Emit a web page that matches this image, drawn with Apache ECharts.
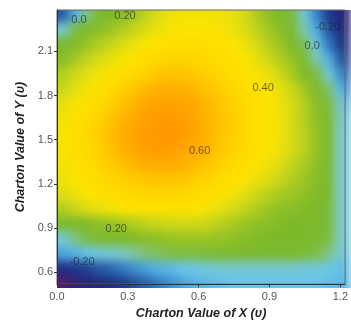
<!DOCTYPE html>
<html><head><meta charset="utf-8">
<script src="https://cdn.jsdelivr.net/npm/echarts@6/dist/echarts.min.js"></script>
<style>
html,body{margin:0;padding:0;background:#fff}
#wrap{position:relative;width:351px;height:325px}
#clip{position:absolute;left:57px;top:10px;width:294px;height:278px;overflow:hidden}
#heat{position:absolute;left:-57px;top:-10px;width:351px;height:325px;filter:blur(5px)}
#c{position:absolute;left:0;top:0;width:351px;height:325px}
</style>
</head><body><div id="wrap"><div id="clip"><div id="heat"></div></div><div id="c"></div></div>
<script>
// grid cell centres (x in Charton units, y top row first)
const xCenters = [0.025,0.075,0.125,0.175,0.225,0.275,0.325,0.375,0.425,0.475,0.525,0.575,0.625,0.675,0.725,0.775,0.825,0.875,0.925,0.975,1.025,1.075,1.125,1.175,1.225];
const yCenters = [2.35,2.25,2.15,2.05,1.95,1.85,1.75,1.65,1.55,1.45,1.35,1.25,1.15,1.05,0.95,0.85,0.75,0.65,0.55];
// surface values, one row per y centre (top first)
const zRows = [
 [-0.14,-0.03,0.08,0.16,0.20,0.22,0.26,0.30,0.34,0.37,0.38,0.38,0.38,0.37,0.36,0.33,0.28,0.23,0.19,0.13,0.02,-0.08,-0.18,-0.24,-0.26],
 [0.03,0.13,0.19,0.22,0.25,0.28,0.31,0.34,0.37,0.39,0.40,0.40,0.40,0.39,0.37,0.34,0.30,0.26,0.22,0.15,0.06,-0.04,-0.14,-0.22,-0.26],
 [0.17,0.21,0.25,0.28,0.31,0.34,0.37,0.40,0.42,0.43,0.44,0.44,0.43,0.42,0.40,0.37,0.33,0.29,0.25,0.20,0.10,0.01,-0.09,-0.18,-0.24],
 [0.22,0.26,0.30,0.33,0.36,0.39,0.42,0.45,0.47,0.48,0.48,0.48,0.47,0.45,0.43,0.40,0.36,0.32,0.28,0.24,0.16,0.06,-0.03,-0.13,-0.21],
 [0.28,0.32,0.35,0.38,0.41,0.44,0.47,0.50,0.53,0.54,0.54,0.52,0.50,0.48,0.45,0.42,0.39,0.36,0.32,0.27,0.20,0.13,0.03,-0.07,-0.16],
 [0.31,0.35,0.38,0.42,0.46,0.50,0.54,0.57,0.59,0.60,0.59,0.57,0.54,0.51,0.48,0.45,0.42,0.40,0.36,0.31,0.26,0.18,0.09,-0.02,-0.11],
 [0.35,0.39,0.42,0.46,0.50,0.55,0.59,0.62,0.64,0.64,0.63,0.61,0.57,0.54,0.50,0.47,0.44,0.41,0.37,0.33,0.28,0.22,0.14,0.04,-0.05],
 [0.38,0.42,0.45,0.49,0.54,0.58,0.62,0.65,0.67,0.67,0.65,0.62,0.58,0.54,0.51,0.47,0.44,0.41,0.38,0.33,0.28,0.23,0.16,0.05,-0.01],
 [0.39,0.43,0.47,0.51,0.56,0.60,0.64,0.67,0.68,0.68,0.66,0.62,0.58,0.54,0.51,0.47,0.44,0.41,0.38,0.33,0.29,0.24,0.17,0.05,0.00],
 [0.39,0.43,0.46,0.50,0.55,0.59,0.62,0.65,0.66,0.65,0.63,0.60,0.57,0.53,0.50,0.46,0.43,0.40,0.37,0.33,0.29,0.24,0.17,0.05,0.00],
 [0.38,0.42,0.45,0.48,0.52,0.55,0.58,0.60,0.61,0.60,0.59,0.56,0.53,0.50,0.47,0.44,0.41,0.37,0.34,0.30,0.27,0.23,0.16,0.05,0.00],
 [0.37,0.40,0.43,0.45,0.48,0.50,0.52,0.53,0.54,0.54,0.53,0.51,0.49,0.46,0.43,0.40,0.37,0.34,0.31,0.28,0.25,0.22,0.16,0.05,0.00],
 [0.34,0.37,0.40,0.42,0.44,0.46,0.47,0.48,0.48,0.48,0.47,0.46,0.44,0.41,0.38,0.35,0.32,0.29,0.27,0.25,0.23,0.21,0.15,0.05,0.00],
 [0.28,0.31,0.34,0.36,0.38,0.40,0.41,0.42,0.42,0.42,0.41,0.40,0.38,0.36,0.33,0.30,0.28,0.25,0.23,0.22,0.21,0.19,0.14,0.05,0.00],
 [0.17,0.19,0.21,0.23,0.24,0.26,0.28,0.30,0.31,0.32,0.32,0.32,0.31,0.29,0.27,0.25,0.23,0.22,0.21,0.20,0.19,0.18,0.14,0.05,0.00],
 [0.03,0.08,0.12,0.15,0.17,0.19,0.21,0.22,0.23,0.24,0.25,0.25,0.25,0.24,0.23,0.22,0.21,0.20,0.20,0.19,0.18,0.17,0.13,0.05,0.00],
 [-0.05,-0.03,0.00,0.02,0.03,0.05,0.07,0.09,0.10,0.12,0.13,0.13,0.14,0.15,0.15,0.15,0.15,0.15,0.15,0.15,0.14,0.12,0.08,0.03,-0.01],
 [-0.21,-0.19,-0.17,-0.14,-0.12,-0.09,-0.07,-0.05,-0.03,-0.02,0.00,0.01,0.02,0.03,0.03,0.03,0.03,0.03,0.03,0.03,0.02,0.02,0.01,-0.01,-0.02],
 [-0.31,-0.27,-0.24,-0.22,-0.20,-0.18,-0.15,-0.12,-0.09,-0.07,-0.05,-0.03,-0.02,-0.01,0.00,0.00,0.00,0.00,0.00,0.00,0.00,0.00,-0.01,-0.02,-0.03]
];
const xTicks = [0.0,0.3,0.6,0.9,1.2];
const yTicks = [0.6,0.9,1.2,1.5,1.8,2.1];
// contour labels (data coordinates)
const contourX = [0.093,0.288,1.147,1.081,0.873,0.604,0.251,0.106];
const contourY = [2.314,2.341,2.267,2.133,1.852,1.424,0.893,0.667];
const contourText = ['0.0','0.20','-0.20','0.0','0.40','0.60','0.20','-0.20'];
const colorStops = ['#7a1a68','#4a1e72','#26247a','#1e2f84','#245098','#2f72c0','#4aa6dd','#68c6ea','#7ec9c4','#80c05a','#7cba30','#7cb92a','#9cc524','#c2d41c','#e4df10','#fde400','#ffdc00','#ffd000','#ffc000','#ffad00','#ff9f00','#ff9400'];

const cellW = 0.05, cellH = 0.1;
const heat = [];
zRows.forEach((row, r) => row.forEach((v, c) => heat.push([xCenters[c], yCenters[r], v])));

const font = 'Liberation Sans, Arial, sans-serif';
const gridOpt = {left: 57, right: 0, top: 10, bottom: 37};
const X_MIN = 0, X_MAX = 1.22, Y_MIN = 0.52, Y_MAX = 2.38;

// colour field layer (softened by CSS blur, clipped to the plot box)
const heatChart = echarts.init(document.getElementById('heat'), null, {renderer: 'canvas'});
heatChart.setOption({
  animation: false,
  grid: gridOpt,
  xAxis: {type: 'value', min: X_MIN, max: X_MAX, show: false},
  yAxis: {type: 'value', min: Y_MIN, max: Y_MAX, show: false},
  visualMap: {show: false, type: 'continuous', min: -0.35, max: 0.7, dimension: 2, seriesIndex: 0, inRange: {color: colorStops}},
  series: [{
    type: 'custom', data: heat, clip: false, silent: true,
    encode: {x: 0, y: 1},
    renderItem: (params, api) => {
      const x = api.value(0), y = api.value(1);
      const p0 = api.coord([x - cellW / 2, y + cellH / 2]);
      const p1 = api.coord([x + cellW / 2, y - cellH / 2]);
      let l = p0[0], t = p0[1], r = p1[0] + 0.7, b = p1[1] + 0.7;
      if (x === xCenters[0]) l -= 30;
      if (x === xCenters[xCenters.length - 1]) r += 30;
      if (y === yCenters[0]) t -= 30;
      if (y === yCenters[yCenters.length - 1]) b += 30;
      return {type: 'rect', shape: {x: l, y: t, width: r - l, height: b - t}, style: {fill: api.visual('color')}};
    }
  }]
});

// axes, frame and contour labels
const chart = echarts.init(document.getElementById('c'), null, {renderer: 'canvas'});
chart.setOption({
  animation: false,
  grid: Object.assign({show: true, borderColor: '#666', borderWidth: 1, backgroundColor: 'transparent'}, gridOpt),
  xAxis: {
    type: 'value', min: X_MIN, max: X_MAX,
    name: 'Charton Value of X (υ)', nameLocation: 'middle', nameGap: 21,
    nameTextStyle: {fontFamily: font, fontWeight: 'bold', fontStyle: 'italic', fontSize: 12.5, color: '#222'},
    axisLine: {show: true, lineStyle: {color: '#333', width: 1}},
    axisTick: {show: true, length: 3, customValues: xTicks, lineStyle: {color: '#333'}},
    axisLabel: {customValues: xTicks, formatter: v => v.toFixed(1), fontSize: 11, color: '#555', margin: 7, fontFamily: font},
    splitLine: {show: false}
  },
  yAxis: {
    type: 'value', min: Y_MIN, max: Y_MAX,
    name: 'Charton Value of Y (υ)', nameLocation: 'middle', nameGap: 30,
    nameTextStyle: {fontFamily: font, fontWeight: 'bold', fontStyle: 'italic', fontSize: 12.5, color: '#222'},
    axisLine: {show: true, lineStyle: {color: '#333', width: 1}},
    axisTick: {show: true, length: 3, customValues: yTicks, lineStyle: {color: '#333'}},
    axisLabel: {customValues: yTicks, formatter: v => v.toFixed(1), fontSize: 11, color: '#555', margin: 4, fontFamily: font},
    splitLine: {show: false}
  },
  series: [{
    type: 'scatter', silent: true, symbolSize: 1,
    itemStyle: {color: 'rgba(0,0,0,0)'},
    data: contourX.map((x, i) => ({value: [x, contourY[i]], name: contourText[i]})),
    label: {show: true, position: 'inside', formatter: '{b}', fontSize: 11, color: 'rgba(25,25,35,0.8)', fontFamily: font}
  }]
});
</script></body></html>
